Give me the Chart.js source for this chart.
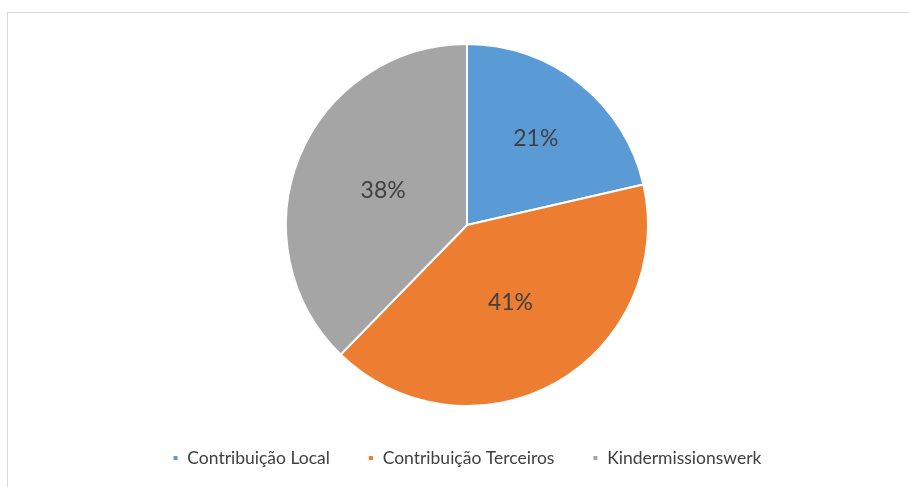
<!DOCTYPE html>
<html><head><meta charset="utf-8">
<script src="https://cdn.jsdelivr.net/npm/chart.js@4/dist/chart.umd.min.js"></script>
<style>
html,body{margin:0;padding:0;background:#fff;}
#wrap{position:relative;width:909px;height:487px;overflow:hidden;}
#frame{position:absolute;left:7px;top:12px;width:940px;height:520px;border:1.5px solid #D9D9D9;box-sizing:border-box;}
canvas{position:absolute;left:0;top:0;}
</style></head><body>
<div id="wrap"><div id="frame"></div><canvas id="c" width="909" height="487"></canvas></div>
<script>
const categories = ['Contribuição Local', 'Contribuição Terceiros', 'Kindermissionswerk'];
const values = [21.4, 40.9, 37.7];
const percentLabels = ['21%', '41%', '38%'];
const colors = ['#5B9BD5', '#ED7D31', '#A5A5A5'];
const labelRadiusFrac = [0.61, 0.49, 0.5];

const sliceLabels = {
  id: 'sliceLabels',
  afterDatasetsDraw(chart) {
    const ctx = chart.ctx;
    const meta = chart.getDatasetMeta(0);
    ctx.save();
    ctx.font = '23px Lato';
    ctx.fillStyle = '#404040';
    ctx.textAlign = 'center';
    ctx.textBaseline = 'middle';
    meta.data.forEach((arc, i) => {
      const p = arc.getProps(['x', 'y', 'startAngle', 'endAngle', 'outerRadius'], true);
      const a = (p.startAngle + p.endAngle) / 2;
      const r = p.outerRadius * labelRadiusFrac[i];
      ctx.fillText(percentLabels[i], p.x + Math.cos(a) * r, p.y + Math.sin(a) * r);
    });
    ctx.restore();
  }
};

new Chart(document.getElementById('c'), {
  type: 'pie',
  data: {
    labels: categories,
    datasets: [{
      data: values,
      backgroundColor: colors,
      borderColor: '#ffffff',
      borderWidth: 2,
      radius: 181
    }]
  },
  options: {
    responsive: false,
    animation: false,
    layout: { padding: { top: 38.75, bottom: 10.25, left: 27, right: 2 } },
    plugins: {
      tooltip: { enabled: false },
      legend: {
        position: 'bottom',
        labels: {
          boxWidth: 6,
          boxHeight: 6,
          padding: 38,
          color: '#404040',
          font: { family: 'Lato', size: 17.5 }
        }
      }
    }
  },
  plugins: [sliceLabels]
});
</script>
</body></html>
